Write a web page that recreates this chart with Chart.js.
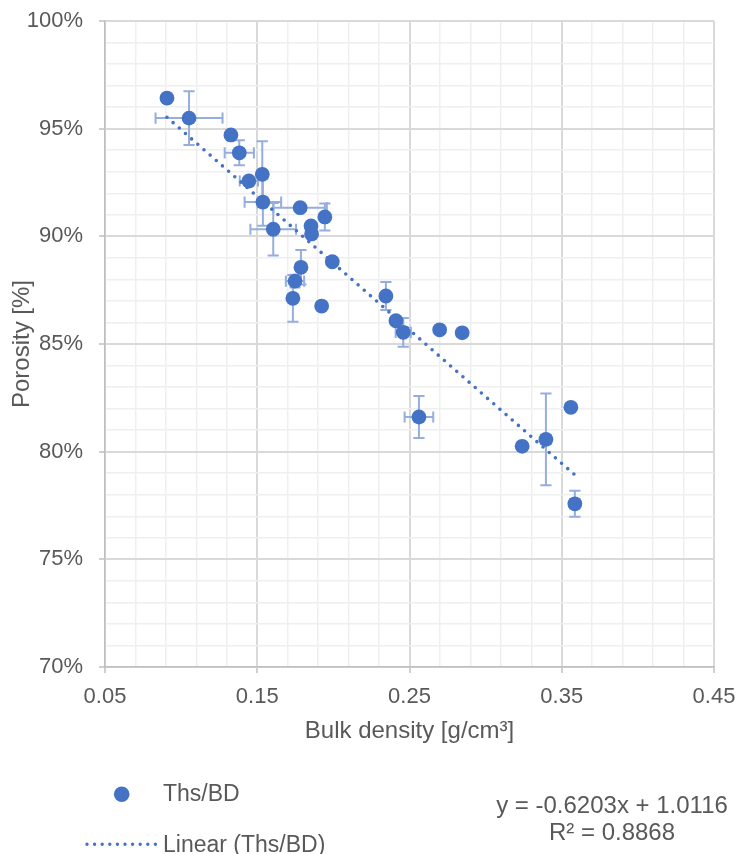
<!DOCTYPE html>
<html>
<head>
<meta charset="utf-8">
<script src="https://cdn.jsdelivr.net/npm/chart.js@4.4.1/dist/chart.umd.min.js"></script>
<style>
  html, body { margin: 0; padding: 0; background: #ffffff; }
  #wrap { position: relative; width: 739px; height: 854px; font-family: "Liberation Sans", Arial, sans-serif; color: #595959; }
  #chart { position: absolute; left: 0; top: 0; }
  .txt { position: absolute; white-space: nowrap; line-height: 1; }
</style>
</head>
<body>
<div id="wrap">
  <canvas id="chart" width="739" height="854"></canvas>
  <svg class="txt" style="left:0;top:0;" width="739" height="854">
    <circle cx="121.7" cy="794.3" r="7.8" fill="#4472C4"></circle>
    <line x1="87" y1="844.3" x2="156" y2="844.3" stroke="#4472C4" stroke-width="3.4" stroke-linecap="round" stroke-dasharray="0 7.6"></line>
  </svg>
  <div class="txt" style="left:163px;top:782px;font-size:23px;">Ths/BD</div>
  <div class="txt" style="left:163px;top:832.5px;font-size:23px;">Linear (Ths/BD)</div>
  <div class="txt" style="left:462px;width:300px;top:791px;font-size:24px;text-align:center;line-height:27px;">y = -0.6203x + 1.0116<br>R² = 0.8868</div>
</div>
<script>
// ---- data ----
const seriesName = "Ths/BD";
const bulkDensity = [0.0907, 0.1052, 0.1327, 0.1382, 0.1445, 0.1533, 0.1537, 0.1605, 0.1782, 0.1944,
                     0.1853, 0.1857, 0.1993, 0.1787, 0.1748, 0.1734, 0.1923, 0.2345, 0.2411, 0.2459,
                     0.2698, 0.2846, 0.2562, 0.3240, 0.3396, 0.3560, 0.3586];
const porosity    = [96.42, 95.49, 94.71, 93.88, 92.57, 92.88, 91.59, 90.33, 91.33, 90.90,
                     90.48, 90.11, 88.82, 88.56, 87.92, 87.12, 86.76, 87.23, 86.08, 85.54,
                     85.66, 85.52, 81.61, 80.25, 80.57, 82.06, 77.58];
const bulkDensityErr = [0, 0.022, 0, 0.0096, 0.006, 0, 0.012, 0.015, 0.0175, 0,
                        0, 0, 0, 0, 0.006, 0, 0, 0, 0, 0.005,
                        0, 0, 0.0094, 0, 0.003, 0, 0.003];
const porosityErr    = [0, 1.25, 0, 0.58, 0, 1.53, 1.1, 1.22, 0, 0.63,
                        0, 0, 0, 0.8, 0.3, 1.09, 0, 0.65, 0, 0.67,
                        0, 0, 0.98, 0, 2.13, 0, 0.6];
// linear trendline endpoints (y = -0.6203x + 1.0116)
const trendX = [0.0907, 0.3586];
const trendY = [95.53, 78.92];
// axis ticks
const xTickValues = [0.05, 0.07, 0.09, 0.11, 0.13, 0.15, 0.17, 0.19, 0.21, 0.23, 0.25,
                     0.27, 0.29, 0.31, 0.33, 0.35, 0.37, 0.39, 0.41, 0.43, 0.45];
const xMajorLabels = ["0.05", "0.15", "0.25", "0.35", "0.45"];
const yTickValues = [70, 71, 72, 73, 74, 75, 76, 77, 78, 79, 80, 81, 82, 83, 84, 85, 86, 87, 88, 89, 90,
                     91, 92, 93, 94, 95, 96, 97, 98, 99, 100];
const yMajorLabels = ["70%", "75%", "80%", "85%", "90%", "95%", "100%"];

// ---- styles ----
const FONT = "'Liberation Sans', Arial, sans-serif";
const TEXT = "#595959";
const BLUE = "#4472C4";
const ERR = "#95AEDD";
const MAJOR_GRID = "#d9d9d9";
const MINOR_GRID = "#efefef";

function xLabel(v) {
  const s = v.toFixed(2);
  return xMajorLabels.includes(s) ? s : "";
}
function yLabel(v) {
  const s = Math.round(v) + "%";
  return yMajorLabels.includes(s) ? s : "";
}

const errorBars = {
  id: "errorBars",
  beforeDatasetsDraw(chart) {
    const { ctx, scales: { x, y } } = chart;
    const cap = 5.6;
    ctx.save();
    ctx.strokeStyle = ERR;
    ctx.lineWidth = 2;
    for (let i = 0; i < bulkDensity.length; i++) {
      const px = x.getPixelForValue(bulkDensity[i]);
      const py = y.getPixelForValue(porosity[i]);
      if (bulkDensityErr[i] > 0) {
        const x1 = x.getPixelForValue(bulkDensity[i] - bulkDensityErr[i]);
        const x2 = x.getPixelForValue(bulkDensity[i] + bulkDensityErr[i]);
        ctx.beginPath();
        ctx.moveTo(x1, py); ctx.lineTo(x2, py);
        ctx.moveTo(x1, py - cap); ctx.lineTo(x1, py + cap);
        ctx.moveTo(x2, py - cap); ctx.lineTo(x2, py + cap);
        ctx.stroke();
      }
      if (porosityErr[i] > 0) {
        const y1 = y.getPixelForValue(porosity[i] - porosityErr[i]);
        const y2 = y.getPixelForValue(porosity[i] + porosityErr[i]);
        ctx.beginPath();
        ctx.moveTo(px, y1); ctx.lineTo(px, y2);
        ctx.moveTo(px - cap, y1); ctx.lineTo(px + cap, y1);
        ctx.moveTo(px - cap, y2); ctx.lineTo(px + cap, y2);
        ctx.stroke();
      }
    }
    ctx.restore();
  }
};

new Chart(document.getElementById("chart"), {
  type: "scatter",
  data: {
    datasets: [
      {
        label: seriesName,
        data: bulkDensity.map((v, i) => ({ x: v, y: porosity[i] })),
        backgroundColor: BLUE,
        borderWidth: 0,
        pointRadius: 7.4,
        pointHoverRadius: 7.4,
        order: 0
      },
      {
        type: "line",
        label: "Linear (" + seriesName + ")",
        data: trendX.map((v, i) => ({ x: v, y: trendY[i] })),
        borderColor: BLUE,
        borderWidth: 3.6,
        borderDash: [0, 8.2],
        borderCapStyle: "round",
        pointRadius: 0,
        fill: false,
        order: 1
      }
    ]
  },
  options: {
    responsive: false,
    animation: false,
    devicePixelRatio: 1,
    layout: { padding: { left: 0, top: 21, right: 25, bottom: 94 } },
    plugins: { legend: { display: false }, tooltip: { enabled: false } },
    scales: {
      x: {
        type: "linear",
        min: 0.05, max: 0.45,
        afterBuildTicks: s => { s.ticks = xTickValues.map(v => ({ value: v })); },
        afterFit: s => { s.height = 93; s.paddingLeft = 0; s.paddingRight = 0; },
        ticks: {
          autoSkip: false, maxRotation: 0, padding: 11,
          callback: v => xLabel(v),
          font: { family: FONT, size: 22 }, color: TEXT
        },
        grid: {
          color: c => (c.tick && xLabel(c.tick.value) ? MAJOR_GRID : MINOR_GRID),
          lineWidth: c => (c.tick && xLabel(c.tick.value) ? 2 : 1.5),
          tickLength: 6,
          tickColor: c => (c.tick && xLabel(c.tick.value) ? "#bfbfbf" : "rgba(0,0,0,0)"),
          tickWidth: 1.5
        },
        border: { color: "#bfbfbf", width: 1.5 },
        title: {
          display: true, text: "Bulk density [g/cm³]",
          font: { family: FONT, size: 24 }, color: TEXT,
          padding: { top: 0, bottom: 14 }
        }
      },
      y: {
        type: "linear",
        min: 70, max: 100,
        afterBuildTicks: s => { s.ticks = yTickValues.map(v => ({ value: v })); },
        afterFit: s => { s.width = 105; s.paddingTop = 0; s.paddingBottom = 0; },
        ticks: {
          autoSkip: false, padding: 16,
          callback: v => yLabel(v),
          font: { family: FONT, size: 22 }, color: TEXT
        },
        grid: {
          color: c => (c.tick && yLabel(c.tick.value) ? MAJOR_GRID : MINOR_GRID),
          lineWidth: c => (c.tick && yLabel(c.tick.value) ? 2 : 1.5),
          tickLength: 6,
          tickColor: c => (c.tick && yLabel(c.tick.value) ? "#bfbfbf" : "rgba(0,0,0,0)"),
          tickWidth: 1.5
        },
        border: { color: "#bfbfbf", width: 1.5 },
        title: {
          display: true, text: "Porosity [%]",
          font: { family: FONT, size: 24 }, color: TEXT,
          padding: { top: 8, bottom: 0 }
        }
      }
    }
  },
  plugins: [errorBars]
});
</script>
</body>
</html>
